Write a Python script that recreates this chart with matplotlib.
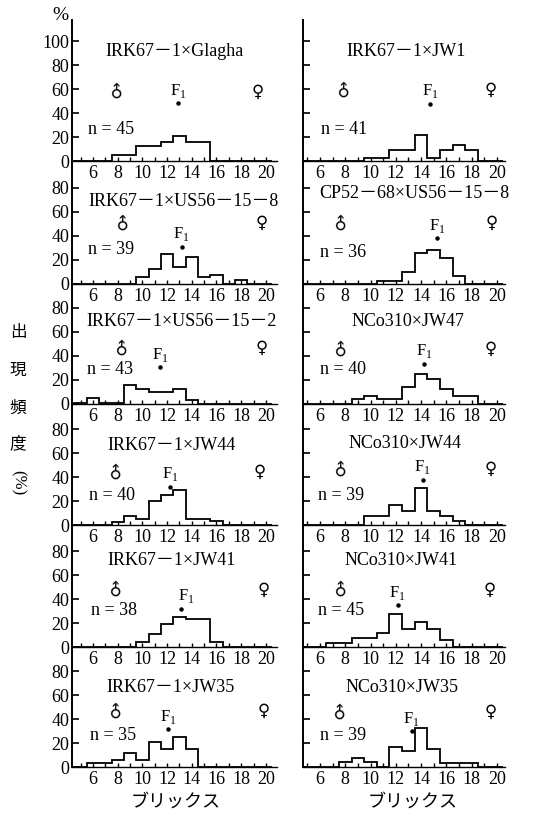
import matplotlib
matplotlib.use("Agg")
import matplotlib.pyplot as plt
import numpy as np

plt.rcParams['font.family'] = ['Liberation Serif', 'Noto Sans CJK JP', 'DejaVu Sans']
plt.rcParams['mathtext.fontset'] = 'custom'
plt.rcParams['mathtext.rm'] = 'Liberation Serif'

# ---------------- data ----------------
bins = list(range(5, 21))  # Brix classes (bin centres)

# frequency (%) for bins 5..20
p1 = [0, 0, 0, 5, 5, 12.8, 12.8, 16.2, 21.2, 15.6, 15.6, 0, 0, 0, 0, 0]
p2 = [0, 0, 0, 0, 0, 2.5, 2.5, 9.5, 9.5, 22, 2.5, 9, 13.5, 9, 0, 0]
p3 = [0, 0, 0, 0, 0, 5.8, 12.8, 25.3, 14.2, 22.5, 5.6, 7.2, 0, 3, 0, 0]
p4 = [0, 0, 0, 0, 0, 0, 2.5, 2.5, 10, 25.8, 28, 21.7, 7, 0, 0, 0]
p5 = [1, 4.6, 1.2, 1.2, 16.1, 12.8, 10, 10, 12.8, 3.6, 0, 0, 0, 0, 0, 0]
p6 = [0, 0, 0, 0, 4.2, 6.4, 4.2, 4.2, 14.2, 25.3, 20.8, 12.8, 6.4, 6.4, 0, 0]
p7 = [0, 0, 0, 2.5, 7.5, 5, 20, 25, 29.5, 5, 5, 3, 0, 0, 0, 0]
p8 = [0, 0, 0, 0, 0, 7.7, 7.7, 16.7, 12, 31, 12, 7.7, 3, 0, 0, 0]
p9 = [0, 0, 0, 0, 0, 4.2, 11, 19, 25, 23, 23, 4.2, 0, 0, 0, 0]
p10 = [0, 0, 3, 3, 7.2, 7.2, 12, 27.8, 14.7, 20.8, 14.7, 5.6, 0, 0, 0, 0]
p11 = [0, 3.6, 3.6, 5.8, 11.4, 5.8, 21, 15.3, 25, 15.3, 0, 0, 0, 0, 0, 0]
p12 = [0, 0, 0, 3.9, 7.5, 3.9, 0, 16.7, 13, 32.5, 15, 3.5, 3.5, 3.5, 0, 0]
freqs = [p1, p2, p3, p4, p5, p6, p7, p8, p9, p10, p11, p12]

titles = ["IRK67－1×Glagha", "IRK67－1×JW1",
          "IRK67－1×US56－15－8", "CP52－68×US56－15－8",
          "IRK67－1×US56－15－2", "NCo310×JW47",
          "IRK67－1×JW44", "NCo310×JW44",
          "IRK67－1×JW41", "NCo310×JW41",
          "IRK67－1×JW35", "NCo310×JW35"]
n_vals = [45, 41, 39, 36, 43, 40, 40, 39, 38, 45, 35, 39]

male_x = [7.94, 7.89, 8.46, 7.71, 8.4, 7.66, 7.92, 7.66, 7.92, 7.66, 7.86, 7.58]
female_x = [19.36, 19.5, 19.66, 19.58, 19.66, 19.5, 19.52, 19.5, 19.79, 19.4, 19.79, 19.5]
f1_x = [12.9, 14.7, 13.18, 15.3, 11.43, 14.25, 12.24, 14.12, 13.13, 12.14, 12.1, 13.25]
f1_y = [48, 47.5, 31, 38, 30.5, 33.6, 32, 37.5, 32, 34.7, 31.4, 29.6]

xticks_major = [6, 8, 10, 12, 14, 16, 18, 20]
xticks_minor = [5, 7, 9, 11, 13, 15, 17, 19]
yticks_top = [0, 20, 40, 60, 80, 100]
yticks_other = [0, 20, 40, 60, 80]

# ---------------- layout (pixels) ----------------
W, H = 536, 818
baselines = [161, 284, 404, 525, 647, 767]
tops = [20, 161, 284, 404, 525, 647]
col_x0 = [72, 303]
col_x1 = [277, 505]
xlims = [(4.3, 20.9), (4.65, 20.65)]
PXU = 1.2  # pixels per percent

title_x = [12.64, 12.78, 13.3, 13.5, 13.2, 12.95, 12.37, 12.7, 12.37, 12.39, 12.3, 12.46]
title_y = [91, 91, 69, 75, 69, 69, 66, 68, 71.7, 71.7, 66, 66]
sym_y = [58, 59, 51, 51, 46.7, 45.8, 44, 47, 48, 48, 46.7, 46]
n_x = [5.6, 6.05, 5.62, 6.0, 5.54, 6.0, 5.7, 5.86, 5.8, 5.86, 5.76, 6.0]
n_y = [26, 26, 29, 26, 28.6, 29, 25, 25, 30.6, 30.6, 26.4, 26]
f1_lab_dx = [0, 0, 0, 0, 0, 0, 0, 0, 0.45, 0, 0, 0]

fig = plt.figure(figsize=(W / 100, H / 100), dpi=100)

edges = np.arange(bins[0] - 0.5, bins[-1] + 1.0, 1.0)

for k in range(12):
    r, c = divmod(k, 2)
    base, top = baselines[r], tops[r]
    x0, x1 = col_x0[c], col_x1[c]
    ax = fig.add_axes([x0 / W, 1 - base / H, (x1 - x0) / W, (base - top) / H])
    ax.patch.set_alpha(0)
    ax.set_xlim(*xlims[c])
    ax.set_ylim(0, (base - top) / PXU)
    for s in ['top', 'right']:
        ax.spines[s].set_visible(False)
    ax.spines['left'].set_linewidth(1.4)
    ax.spines['bottom'].set_linewidth(1.0)

    ax.stairs(freqs[k], edges, baseline=0, color='black', linewidth=1.3)

    ax.set_xticks(xticks_major)
    ax.set_xticks(xticks_minor, minor=True)
    ax.set_xticklabels([str(t) for t in xticks_major])
    ax.tick_params(axis='x', which='both', direction='in', length=3, width=1.0,
                   labelsize=13, pad=3)
    yt = yticks_top if r == 0 else yticks_other
    ax.set_yticks(yt)
    if c == 0:
        ax.set_yticklabels([str(t) for t in yt])
    else:
        ax.set_yticklabels([])
    ax.tick_params(axis='y', direction='in', length=5, width=1.2, labelsize=13, pad=2)

    ax.text(title_x[k], title_y[k], titles[k], ha='center', va='center',
            fontsize=13, clip_on=False)
    ax.text(male_x[k], sym_y[k], '♂', rotation=45, ha='center', va='center',
            fontsize=12, family=['DejaVu Sans'], clip_on=False)
    ax.text(female_x[k], sym_y[k], '♀', ha='center', va='center',
            fontsize=12, family=['DejaVu Sans'], clip_on=False)
    ax.plot([f1_x[k]], [f1_y[k]], 'o', color='black', markersize=2.2, clip_on=False)
    ax.text(f1_x[k] + f1_lab_dx[k], f1_y[k] + 10.5, r'F$_{\mathregular{1}}$',
            ha='center', va='center', fontsize=12, clip_on=False)
    ax.text(n_x[k], n_y[k], f'n = {n_vals[k]}', ha='left', va='center',
            fontsize=13, clip_on=False)

# percent sign at top of left axis
fig.text(60 / W, 1 - 15 / H, '%', ha='center', va='center', fontsize=14)

# vertical y label
ylab_chars = ['出', '現', '頻', '度']
ylab_y = [333, 370, 408, 444]
for ch, yy in zip(ylab_chars, ylab_y):
    fig.text(18 / W, 1 - yy / H, ch, ha='center', va='center', fontsize=12,
             family=['Noto Sans CJK JP'])
fig.text(18 / W, 1 - 483 / H, '(%)', rotation=-90, ha='center', va='center',
         fontsize=12, family=['Liberation Serif'])

# x labels
for xc in [176, 413]:
    fig.text(xc / W, 1 - 802 / H, 'ブリックス', ha='center', va='center', fontsize=13,
             family=['Noto Sans CJK JP'])

fig.savefig('out.png', dpi=100)
